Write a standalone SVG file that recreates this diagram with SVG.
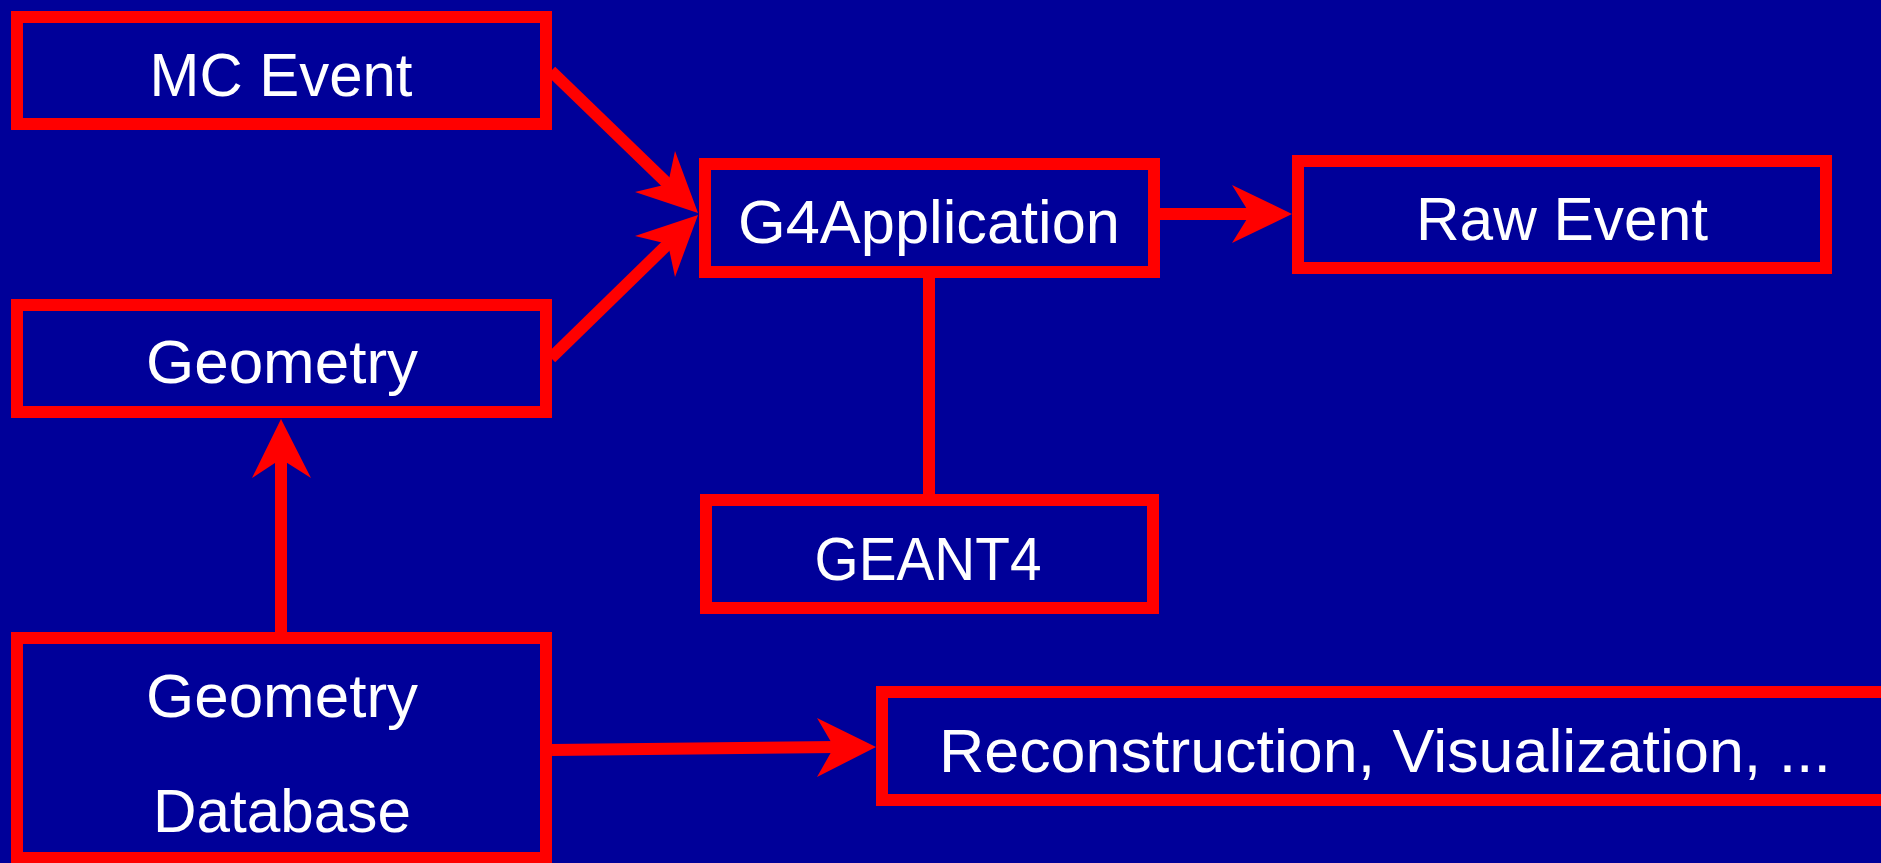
<svg xmlns="http://www.w3.org/2000/svg" width="1881" height="863" viewBox="0 0 1881 863">
<style>
.box{fill:#000099;stroke:#ff0000;stroke-width:12}
.lbl{fill:#ffffff;font-family:"Liberation Sans",Arial,sans-serif;font-size:62px;text-anchor:middle}
.line{stroke:#ff0000;stroke-width:12;fill:none}
.head{fill:#ff0000}
</style>
<rect x="0" y="0" width="1881" height="863" fill="#000099"/>
<g id="connectors">
<line class="line" x1="551" y1="71" x2="672" y2="188"/>
<polygon class="head" points="698,213 675,151 668,184 635,192"/>
<line class="line" x1="551" y1="358" x2="672" y2="240"/>
<polygon class="head" points="698,215 635,236 668,244 675,277"/>
<line class="line" x1="1160" y1="214" x2="1252" y2="214"/>
<polygon class="head" points="1292,214 1232,185 1250,214 1232,243"/>
<line class="line" x1="929" y1="278" x2="929" y2="495"/>
<line class="line" x1="281" y1="632" x2="281" y2="457"/>
<polygon class="head" points="281,419 252,478 281,459 311,478"/>
<line class="line" x1="552" y1="750" x2="836" y2="747"/>
<polygon class="head" points="876,747 817,718 834,747 817,777"/>
</g>
<g id="mc-event">
<rect class="box" x="17" y="17" width="529" height="107"/>
<text class="lbl" x="281" y="96" textLength="263" lengthAdjust="spacingAndGlyphs">MC Event</text>
</g>
<g id="geometry">
<rect class="box" x="17" y="305" width="529" height="107"/>
<text class="lbl" x="282" y="383" textLength="272" lengthAdjust="spacingAndGlyphs">Geometry</text>
</g>
<g id="g4application">
<rect class="box" x="705" y="164" width="449" height="108"/>
<text class="lbl" x="929" y="243" textLength="382" lengthAdjust="spacingAndGlyphs">G4Application</text>
</g>
<g id="raw-event">
<rect class="box" x="1298" y="161" width="528" height="107"/>
<text class="lbl" x="1562" y="240" textLength="292" lengthAdjust="spacingAndGlyphs">Raw Event</text>
</g>
<g id="geant4">
<rect class="box" x="706" y="500" width="447" height="108"/>
<text class="lbl" x="928" y="580" textLength="227" lengthAdjust="spacingAndGlyphs">GEANT4</text>
</g>
<g id="geometry-database">
<rect class="box" x="17" y="638" width="529" height="220"/>
<text class="lbl" x="282" y="717" textLength="272" lengthAdjust="spacingAndGlyphs">Geometry</text>
<text class="lbl" x="282" y="832" textLength="258" lengthAdjust="spacingAndGlyphs">Database</text>
</g>
<g id="reconstruction">
<rect class="box" x="882" y="692" width="1010" height="108"/>
<text class="lbl" x="1385" y="772" textLength="892" lengthAdjust="spacingAndGlyphs">Reconstruction, Visualization, ...</text>
</g>
</svg>
